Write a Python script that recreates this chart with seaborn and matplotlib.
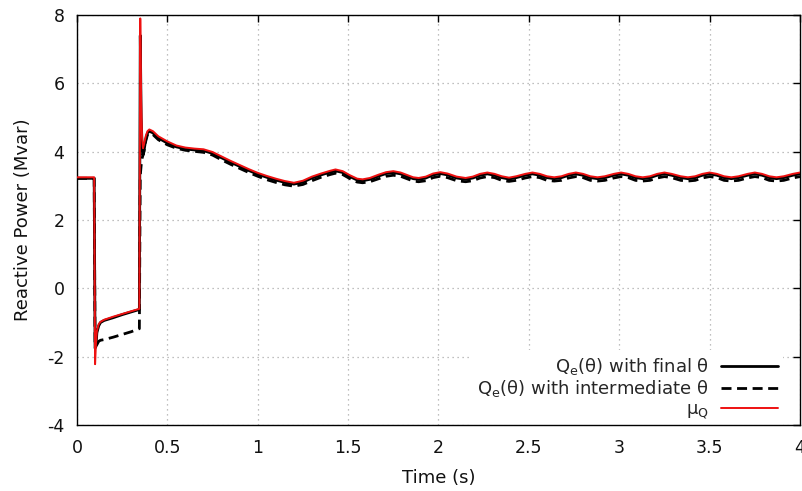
import numpy as np
import pandas as pd
import matplotlib
matplotlib.use("Agg")
import matplotlib.pyplot as plt
import seaborn as sns

# ---- data ----
time_s = [0.0, 0.095, 0.100, 0.105, 0.110, 0.120, 0.130, 0.150, 0.200, 0.250, 0.300, 0.345,
          0.350, 0.355, 0.360, 0.365, 0.370, 0.380, 0.390, 0.400, 0.420, 0.450, 0.500,
          0.55, 0.60, 0.65, 0.70, 0.75, 0.80, 0.85, 0.90, 0.95, 1.00, 1.05, 1.10, 1.15, 1.20,
          1.25, 1.30, 1.35, 1.40, 1.43, 1.47, 1.51, 1.55, 1.58, 1.62, 1.67, 1.71, 1.75, 1.79,
          1.83, 1.86, 1.89, 1.93, 1.97, 2.01, 2.05, 2.10, 2.15, 2.19, 2.23, 2.27, 2.31, 2.35,
          2.39, 2.43, 2.48, 2.52, 2.56, 2.60, 2.64, 2.68, 2.72, 2.76, 2.80, 2.84, 2.88, 2.92,
          2.97, 3.01, 3.05, 3.09, 3.13, 3.17, 3.21, 3.25, 3.29, 3.34, 3.38, 3.42, 3.46, 3.50,
          3.54, 3.58, 3.62, 3.66, 3.71, 3.75, 3.79, 3.83, 3.87, 3.91, 3.96, 4.00]

mu_q = [3.25, 3.25, -2.22, -1.60, -1.25, -1.05, -0.98, -0.92, -0.83, -0.75, -0.67, -0.60,
        7.90, 5.50, 4.40, 4.10, 4.20, 4.45, 4.60, 4.65, 4.60, 4.45, 4.30,
        4.18, 4.12, 4.09, 4.07, 3.99, 3.86, 3.73, 3.61, 3.49, 3.38, 3.29, 3.21, 3.14, 3.09,
        3.15, 3.27, 3.36, 3.44, 3.48, 3.43, 3.31, 3.21, 3.19, 3.23, 3.33, 3.40, 3.43, 3.39,
        3.31, 3.25, 3.23, 3.27, 3.36, 3.40, 3.36, 3.27, 3.23, 3.27, 3.35, 3.39, 3.35, 3.28,
        3.24, 3.28, 3.35, 3.39, 3.35, 3.28, 3.25, 3.28, 3.35, 3.39, 3.35, 3.28, 3.25, 3.28,
        3.35, 3.39, 3.35, 3.28, 3.25, 3.28, 3.35, 3.39, 3.35, 3.28, 3.25, 3.28, 3.35, 3.39,
        3.35, 3.28, 3.25, 3.28, 3.35, 3.39, 3.35, 3.28, 3.25, 3.28, 3.35, 3.39]

q_final = [3.22, 3.22, -1.75, -1.70, -1.30, -1.10, -1.00, -0.94, -0.86, -0.77, -0.69, -0.62,
           7.40, 5.00, 4.20, 3.90, 4.00, 4.35, 4.55, 4.60, 4.55, 4.40, 4.25,
           4.14, 4.08, 4.05, 4.03, 3.95, 3.82, 3.69, 3.57, 3.45, 3.34, 3.25, 3.17, 3.10, 3.05,
           3.11, 3.23, 3.32, 3.40, 3.44, 3.39, 3.27, 3.17, 3.15, 3.19, 3.29, 3.36, 3.39, 3.35,
           3.27, 3.21, 3.19, 3.23, 3.32, 3.36, 3.32, 3.23, 3.19, 3.23, 3.31, 3.35, 3.31, 3.24,
           3.20, 3.24, 3.31, 3.35, 3.31, 3.24, 3.21, 3.24, 3.31, 3.35, 3.31, 3.24, 3.21, 3.24,
           3.31, 3.35, 3.31, 3.24, 3.21, 3.24, 3.31, 3.35, 3.31, 3.24, 3.21, 3.24, 3.31, 3.35,
           3.31, 3.24, 3.21, 3.24, 3.31, 3.35, 3.31, 3.24, 3.21, 3.24, 3.31, 3.35]

q_intermediate = [3.22, 3.22, -1.70, -1.68, -1.65, -1.55, -1.52, -1.50, -1.43, -1.35, -1.27, -1.18,
                  3.30, 3.60, 3.80, 3.90, 4.00, 4.30, 4.50, 4.55, 4.50, 4.35, 4.20,
                  4.10, 4.04, 4.01, 3.98, 3.90, 3.76, 3.63, 3.51, 3.39, 3.28, 3.18, 3.10, 3.03, 2.99,
                  3.04, 3.15, 3.25, 3.33, 3.37, 3.33, 3.21, 3.11, 3.09, 3.12, 3.21, 3.28, 3.31, 3.28,
                  3.20, 3.14, 3.12, 3.15, 3.24, 3.28, 3.24, 3.15, 3.12, 3.15, 3.23, 3.27, 3.24, 3.16,
                  3.13, 3.16, 3.23, 3.27, 3.24, 3.16, 3.14, 3.16, 3.23, 3.27, 3.24, 3.16, 3.14, 3.16,
                  3.23, 3.27, 3.24, 3.16, 3.14, 3.16, 3.23, 3.27, 3.24, 3.16, 3.14, 3.16, 3.23, 3.27,
                  3.24, 3.16, 3.14, 3.16, 3.23, 3.27, 3.24, 3.16, 3.14, 3.16, 3.23, 3.27]

labels = [r"Q$_\mathrm{e}$(θ) with final θ",
          r"Q$_\mathrm{e}$(θ) with intermediate θ",
          r"μ$_\mathrm{Q}$"]

x_ticks = [0, 0.5, 1, 1.5, 2, 2.5, 3, 3.5, 4]
x_tick_labels = ["0", "0.5", "1", "1.5", "2", "2.5", "3", "3.5", "4"]
y_ticks = [-4, -2, 0, 2, 4, 6, 8]

df = pd.DataFrame({"t": time_s, "final": q_final, "inter": q_intermediate, "mu": mu_q})

sns.set_theme(style="white")
plt.rcParams["font.family"] = ["DejaVu Sans"]
plt.rcParams["mathtext.fontset"] = "dejavusans"
plt.rcParams["axes.unicode_minus"] = False

fig = plt.figure(figsize=(8.03, 4.91), dpi=100)
# axes from x=77..800 px, y=15..425 px
ax = fig.add_axes([77 / 803, 1 - 425 / 491, 723 / 803, 410 / 491])

DASH = [3.6, 2.0]
sns.lineplot(data=df, x="t", y="final", ax=ax, color="black", linewidth=2.0,
             estimator=None, sort=False, label=labels[0], zorder=3)
sns.lineplot(data=df, x="t", y="inter", ax=ax, color="black", linewidth=2.0,
             estimator=None, sort=False, label=labels[1], zorder=2)
ax.lines[-1].set_dashes(DASH)
sns.lineplot(data=df, x="t", y="mu", ax=ax, color="#ee1111", linewidth=1.4,
             estimator=None, sort=False, label=labels[2], zorder=4)

ax.set_xlim(0, 4)
ax.set_ylim(-4, 8)
ax.set_xticks(x_ticks)
ax.set_xticklabels(x_tick_labels)
ax.set_yticks(y_ticks)
ax.set_xlabel("Time (s)", fontsize=13, color="#111111", labelpad=9)
ax.set_ylabel("Reactive Power (Mvar)", fontsize=13, color="#111111", labelpad=11)

ax.grid(True, linestyle=(0, (1, 3)), color="#aaaaaa", linewidth=0.9)
ax.tick_params(direction="in", length=5, width=1, top=True, right=True,
               labelsize=12.5, labelcolor="#111111", color="black")
ax.tick_params(axis="x", pad=10)
ax.tick_params(axis="y", pad=9)
for s in ax.spines.values():
    s.set_color("black")
    s.set_linewidth(1.0)

h, l = ax.get_legend_handles_labels()
h[1].set_dashes(DASH)
leg = ax.legend(h, l, loc="lower right", bbox_to_anchor=(0.977, -0.004),
                markerfirst=False, fontsize=13,
                frameon=True, facecolor="white", edgecolor="white", framealpha=1.0,
                handlelength=3.15, handletextpad=0.7, labelspacing=0.08,
                borderpad=0.3, borderaxespad=0.0, fancybox=False)
leg.get_frame().set_linewidth(0)
leg.set_zorder(1.5)

fig.savefig("out.png", dpi=100)
